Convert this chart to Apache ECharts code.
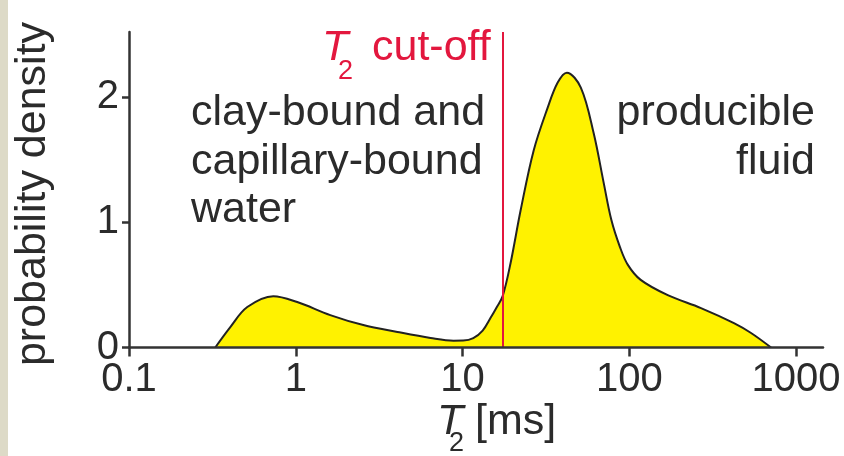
<!DOCTYPE html>
<html>
<head>
<meta charset="utf-8">
<script src="https://cdn.jsdelivr.net/npm/echarts@6/dist/echarts.min.js"></script>
<style>html,body{margin:0;padding:0;background:#fff}#c{width:844px;height:456px}</style>
</head>
<body>
<div id="c"></div>
<script>
// T2 values [ms]
var t2 = [0.329, 0.405, 0.512, 0.733, 1.02, 1.61, 2.54, 4.07, 6.43, 8.83, 10.1, 11.6, 13.2, 14.7, 16.0, 17.4, 19.4, 22.3, 26.7, 32.4, 37.2, 42.2, 51.2, 61.2, 70.3, 78, 88, 98, 117, 170, 269, 424, 537, 708];
// probability density
var density = [0, 0.163, 0.323, 0.410, 0.363, 0.259, 0.179, 0.124, 0.076, 0.054, 0.055, 0.075, 0.135, 0.235, 0.32, 0.41, 0.673, 1.096, 1.574, 1.916, 2.116, 2.195, 2.076, 1.709, 1.311, 1.02, 0.80, 0.66, 0.54, 0.418, 0.315, 0.195, 0.116, 0];
var xTicks = [0.1, 1, 10, 100, 1000];
var yTicks = [0, 1, 2];
var cutoff = [17.4];

var FONT = "'Liberation Sans', Arial, sans-serif";
var RED = '#e3173e';
var TXT = '#2b2b2b';

var data = t2.map(function (t, i) { return [t, density[i]]; });

var chart = echarts.init(document.getElementById('c'), null, {renderer: 'canvas'});
chart.setOption({
  backgroundColor: '#ffffff',
  animation: false,
  grid: {left: 129, right: 21, top: 32, bottom: 108.5, containLabel: false},
  xAxis: {
    type: 'log', logBase: 10, min: 0.1, max: 1450, z: 10,
    axisLine: {show: true, onZero: false, lineStyle: {color: '#333', width: 2.5}},
    axisTick: {show: true, length: 9, lineStyle: {color: '#333', width: 2.5}, customValues: xTicks},
    axisLabel: {show: true, margin: 12, fontSize: 40, color: TXT, fontFamily: FONT, customValues: xTicks,
      formatter: function (v) { return String(v); }},
    splitLine: {show: false}, minorTick: {show: false}
  },
  yAxis: {
    type: 'value', min: 0, max: 2.52, z: 10,
    axisLine: {show: true, lineStyle: {color: '#333', width: 2.5}},
    axisTick: {show: true, length: 7, lineStyle: {color: '#333', width: 2.5}, customValues: yTicks},
    axisLabel: {show: true, margin: 10, fontSize: 40, color: TXT, fontFamily: FONT, customValues: yTicks, padding: [0, 0, 8, 0]},
    splitLine: {show: false}
  },
  series: [{
    type: 'line', data: data, smooth: 0.35, symbol: 'none', z: 2,
    lineStyle: {color: '#222', width: 2},
    areaStyle: {color: '#fff200', opacity: 1},
    markLine: {
      silent: true, symbol: 'none', animation: false,
      label: {show: false},
      lineStyle: {color: RED, width: 2, type: 'solid'},
      data: cutoff.map(function (c) { return {xAxis: c}; })
    }
  }],
  graphic: [
    {type: 'rect', left: 0, top: 0, shape: {width: 8, height: 456}, style: {fill: '#dddac7'}, z: 100},
    {type: 'text', x: 33, y: 194, rotation: Math.PI / 2,
      style: {text: 'probability density', font: '43px ' + FONT, fill: TXT, align: 'center', verticalAlign: 'middle'}},
    // T2 cut-off
    {type: 'text', x: 322, y: 48, style: {text: 'T', font: 'italic 43px ' + FONT, fill: RED, align: 'left', verticalAlign: 'middle'}},
    {type: 'text', x: 338, y: 72, style: {text: '2', font: '27px ' + FONT, fill: RED, align: 'left', verticalAlign: 'middle'}},
    {type: 'text', x: 372, y: 48, style: {text: 'cut-off', font: '43px ' + FONT, fill: RED, align: 'left', verticalAlign: 'middle'}},
    // left annotation
    {type: 'text', x: 191, y: 113, style: {text: 'clay-bound and', font: '43px ' + FONT, fill: TXT, align: 'left', verticalAlign: 'middle'}},
    {type: 'text', x: 191, y: 162, style: {text: 'capillary-bound', font: '43px ' + FONT, fill: TXT, align: 'left', verticalAlign: 'middle'}},
    {type: 'text', x: 191, y: 210, style: {text: 'water', font: '43px ' + FONT, fill: TXT, align: 'left', verticalAlign: 'middle'}},
    // right annotation
    {type: 'text', x: 815, y: 113, style: {text: 'producible', font: '43px ' + FONT, fill: TXT, align: 'right', verticalAlign: 'middle'}},
    {type: 'text', x: 815, y: 162, style: {text: 'fluid', font: '43px ' + FONT, fill: TXT, align: 'right', verticalAlign: 'middle'}},
    // x axis title
    {type: 'text', x: 437, y: 422, style: {text: 'T', font: 'italic 43px ' + FONT, fill: TXT, align: 'left', verticalAlign: 'middle'}},
    {type: 'text', x: 449, y: 444, style: {text: '2', font: '27px ' + FONT, fill: TXT, align: 'left', verticalAlign: 'middle'}},
    {type: 'text', x: 475, y: 422, style: {text: '[ms]', font: '43px ' + FONT, fill: TXT, align: 'left', verticalAlign: 'middle'}}
  ]
});
</script>
</body>
</html>
